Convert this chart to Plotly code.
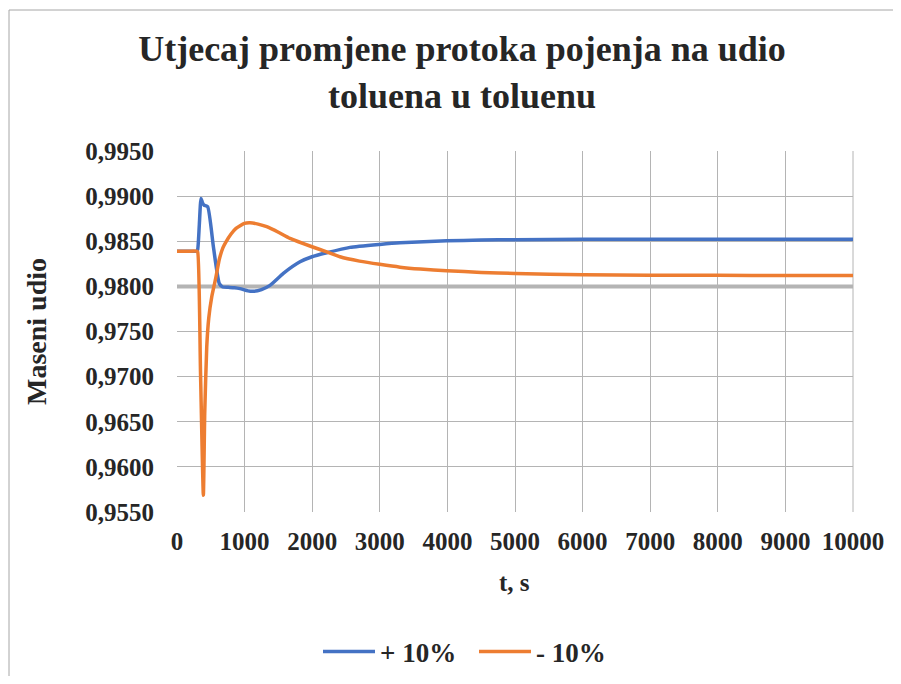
import plotly.graph_objects as go

t_plus = [0, 150, 290, 306, 330, 355, 375, 400, 454, 540, 626, 676, 759, 850, 932, 1050, 1129, 1250, 1376, 1573, 1820, 1997, 2214, 2559, 2999, 3299, 3989, 4500, 5000, 6000, 7000, 8000, 9000, 10000]
y_plus = [0.9839, 0.9839, 0.9839, 0.9841, 0.9868, 0.98975, 0.9893, 0.9890, 0.98882, 0.9843, 0.9803, 0.97993, 0.97989, 0.97985, 0.97975, 0.97950, 0.97945, 0.97965, 0.98011, 0.98144, 0.98272, 0.98328, 0.98372, 0.98432, 0.98465, 0.98483, 0.98505, 0.98513, 0.98518, 0.98521, 0.98522, 0.98522, 0.98522, 0.98522]

t_minus = [0, 150, 290, 306, 348, 390, 410, 440, 470, 513, 570, 626, 680, 725, 800, 873, 996, 1080, 1200, 1327, 1500, 1672, 1997, 2214, 2411, 2700, 2999, 3299, 3600, 3989, 4500, 5000, 6011, 7000, 8000, 9000, 10000]
y_minus = [0.9839, 0.9839, 0.9839, 0.9838, 0.9704, 0.95685, 0.9659, 0.9733, 0.9765, 0.9788, 0.9808, 0.9830, 0.9843, 0.98494, 0.9858, 0.98642, 0.98698, 0.98705, 0.98690, 0.98661, 0.98600, 0.98532, 0.98439, 0.98383, 0.98328, 0.98280, 0.98244, 0.98213, 0.98192, 0.98173, 0.98155, 0.98144, 0.98128, 0.98124, 0.98122, 0.98121, 0.98120]

t_ref = [0, 10000]
y_ref = [0.98, 0.98]

x_ticks = list(range(0, 10001, 1000))
y_ticks = [0.955, 0.960, 0.965, 0.970, 0.975, 0.980, 0.985, 0.990, 0.995]

title_text = "Utjecaj promjene protoka pojenja na udio<br>toluena u toluenu"
x_title = "t, s"
y_title = "Maseni udio"

FF = "Liberation Serif"
TXT = "#262626"

OFF = 8  # page offset of the plot div in the screenshot
W, H = 901 - 2 * OFF, 684 - 2 * OFF  # keep the figure inside the window (no scrollbars)
# target plot-area edges in screenshot pixels
SL, SR, ST, SB = 177, 853, 151, 512
L, R, T, B = SL - OFF, SR - OFF, ST - OFF, SB - OFF
pw, ph = R - L, B - T


def px_x(p):
    return (p - OFF - L) / pw


def px_y(p):
    return (B - (p - OFF)) / ph


def bold(size):
    return dict(family=FF, size=size, color=TXT, weight="bold")


fig = go.Figure()
fig.add_trace(go.Scatter(x=t_ref, y=y_ref, mode="lines", line=dict(color="#B4B4B4", width=4),
                         showlegend=False, hoverinfo="skip"))
fig.add_trace(go.Scatter(x=t_plus, y=y_plus, mode="lines", name="+ 10%",
                         line=dict(color="#4472C4", width=3.5, shape="spline", smoothing=0.5)))
fig.add_trace(go.Scatter(x=t_minus, y=y_minus, mode="lines", name="- 10%",
                         line=dict(color="#ED7D31", width=3.5, shape="spline", smoothing=0.5)))

border = dict(color="#A6A6A6", width=1)

fig.update_layout(
    width=W, height=H,
    margin=dict(l=L, r=W - R, t=T, b=H - B, autoexpand=False),
    paper_bgcolor="white", plot_bgcolor="white",
    separators=", ",
    font=dict(family=FF, color=TXT),
    title=dict(text=title_text, x=(462 - OFF) / W, xanchor="center", xref="container",
               y=1 - 53 / H, yanchor="top", yref="container", font=bold(36)),
    xaxis=dict(range=[0, 10000], tickvals=x_ticks, tickformat="d", automargin=False,
               showgrid=True, gridcolor="#B4B4B4", gridwidth=1, zeroline=False,
               showline=False, ticks="", ticklabelstandoff=12, tickfont=bold(25)),
    yaxis=dict(range=[0.955, 0.995], tickvals=y_ticks, tickformat=".4f", automargin=False,
               showgrid=True, gridcolor="#B4B4B4", gridwidth=1, zeroline=False,
               showline=False, ticks="", ticklabelstandoff=22, tickfont=bold(25)),
    legend=dict(orientation="h", x=px_x(318), xanchor="left", y=px_y(652), yanchor="middle",
                font=bold(27), tracegroupgap=0, bgcolor="rgba(0,0,0,0)",
                itemwidth=52, entrywidth=89, entrywidthmode="pixels"),
    annotations=[
        dict(text=x_title, xref="paper", yref="paper", x=px_x(514), y=px_y(582),
             xanchor="center", yanchor="middle", showarrow=False, font=bold(25)),
        dict(text=y_title, xref="paper", yref="paper", x=px_x(36), y=px_y(332),
             xanchor="center", yanchor="middle", showarrow=False, textangle=-90, font=bold(28)),
    ],
    shapes=[
        dict(type="line", xref="paper", yref="paper", x0=px_x(9), x1=px_x(930), y0=px_y(10), y1=px_y(10),
             line=border, layer="below"),
        dict(type="line", xref="paper", yref="paper", x0=px_x(9), x1=px_x(9), y0=px_y(10), y1=px_y(720),
             line=border, layer="below"),
        dict(type="line", xref="paper", yref="paper", x0=1, x1=1, y0=0, y1=1,
             line=dict(color="#B4B4B4", width=1), layer="below"),
    ],
)

fig.write_html("out.html")
